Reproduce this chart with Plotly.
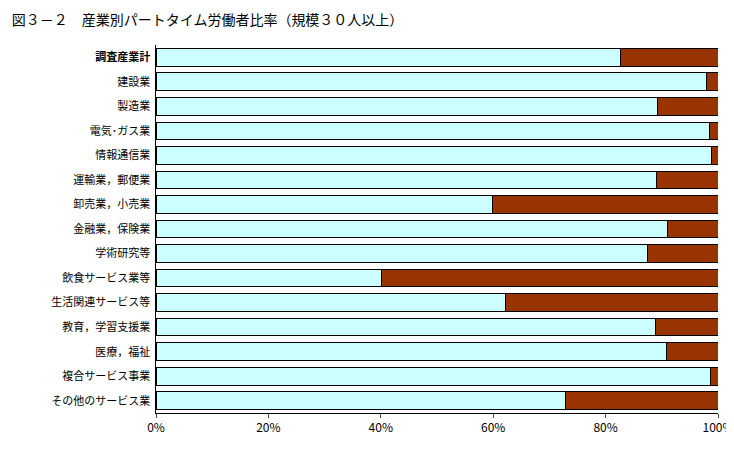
import plotly.graph_objects as go

categories = ["調査産業計","建設業","製造業","電気･ガス業","情報通信業","運輸業，郵便業","卸売業，小売業",
              "金融業，保険業","学術研究等","飲食サービス業等","生活関連サービス等","教育，学習支援業",
              "医療，福祉","複合サービス事業","その他のサービス業"]
ippan = [82.6,97.9,89.3,98.4,98.8,89.0,59.8,91.1,87.4,40.2,62.1,88.8,90.9,98.6,72.8]
part = [round(100-v,1) for v in ippan]
labels = ["<b>調査産業計</b>"] + categories[1:]
ticks = [0,20,40,60,80,100]
tick_text = ["0%","20%","40%","60%","80%","100%"]

fig = go.Figure()
fig.add_bar(y=labels, x=ippan, orientation="h", name="一般",
            marker=dict(color="#CCFFFF", line=dict(color="black", width=1)))
fig.add_bar(y=labels, x=part, orientation="h", name="パート",
            marker=dict(color="#993300", line=dict(color="black", width=1)))
fig.update_layout(
    barmode="stack", bargap=0.28, width=734, height=469,
    paper_bgcolor="white", plot_bgcolor="white",
    font=dict(family="Noto Sans CJK JP", size=11, color="black"),
    margin=dict(l=148, r=24, t=37, b=64, autoexpand=False),
    title=dict(text="図３－２　産業別パートタイム労働者比率（規模３０人以上）", x=0.005, y=0.985,
               xanchor="left", yanchor="top", font=dict(size=14)),
    xaxis=dict(range=[0,100], tickvals=ticks, ticktext=tick_text, showgrid=False, automargin=False,
               showline=True, linecolor="black", ticks="outside", ticklen=4, zeroline=False,
               tickfont=dict(size=12)),
    yaxis=dict(autorange="reversed", showline=True, linecolor="black", ticks="", ticksuffix=" ",
               automargin=False),
    legend=dict(orientation="h", x=0.45, xanchor="center", y=-0.14, yanchor="top",
                font=dict(size=13), traceorder="normal"),
)
fig.write_html("out.html")
